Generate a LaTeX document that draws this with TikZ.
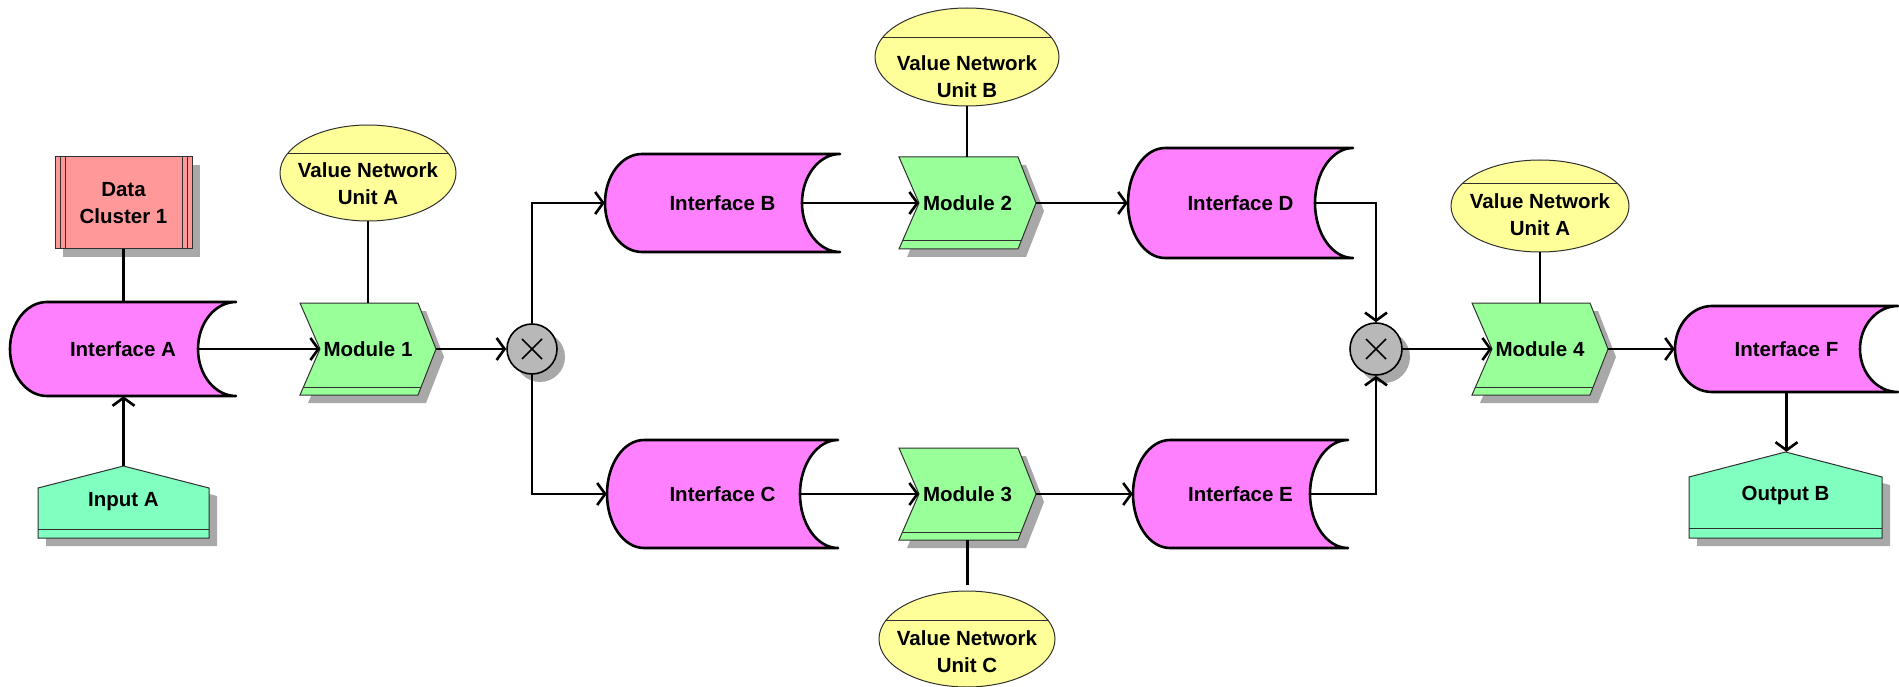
\documentclass[tikz,border=0pt]{standalone}
\usepackage{fontspec}
\setmainfont{Liberation Sans}
\usetikzlibrary{arrows.meta,shapes.geometric,calc}

\definecolor{ifacefill}{HTML}{FF80FF}
\definecolor{modfill}{HTML}{99FF99}
\definecolor{iofill}{HTML}{80FFC0}
\definecolor{vnufill}{HTML}{FFFF99}
\definecolor{dcfill}{HTML}{FF9999}
\definecolor{xorfill}{HTML}{B8B8B8}
\definecolor{shadowc}{HTML}{A8A8A8}
\definecolor{edgec}{HTML}{303030}

\tikzset{
  lbl/.style={inner sep=0pt, font=\fontsize{20.5}{27}\selectfont\bfseries, align=center, text=black},
  conn/.style={line width=2.6pt, black},
  flow/.style={conn, -{Straight Barb[length=8pt,width=22pt,line width=2.6pt]}},
  ifaceline/.style={line width=2.6pt, black, fill=ifacefill, line join=round},
  thinline/.style={line width=1pt, edgec},
  xorline/.style={line width=1.6pt, black},
}

% Interface: name, left, right, top, bottom, label
\newcommand\interface[6]{%
  \pgfmathsetmacro\ifM{-(#4+#5)/2}%
  \pgfmathsetmacro\ifH{(#5-#4)/2}%
  \pgfmathsetmacro\ifC{(#2+#3)/2}%
  \pgfmathsetmacro\ifW{#3-#2}%
  \pgfmathsetmacro\ifHt{#5-#4}%
  \draw[ifaceline] ({#2+37},-#4) -- (#3,-#4)
     arc[start angle=90,end angle=270,x radius=38,y radius=\ifH]
     -- ({#2+37},-#5)
     arc[start angle=270,end angle=90,x radius=37,y radius=\ifH] -- cycle;
  \node[lbl, minimum width=\ifW pt, minimum height=\ifHt pt] (#1) at (\ifC,\ifM) {#6};
  \coordinate (#1-out) at ({#3-38},\ifM);
}

% Module (chevron): name, left, right, top, bottom, label
\newcommand\module[6]{%
  \pgfmathsetmacro\mM{-(#4+#5)/2}%
  \pgfmathsetmacro\mS{-(#5-8)}%
  \pgfmathsetmacro\mW{#3+18-#2}%
  \pgfmathsetmacro\mH{#5-#4}%
  \pgfmathsetmacro\mC{(#2+#3+18)/2}%
  \fill[shadowc] ({#2+8},{-#4-8}) -- ({#3+8},{-#4-8}) -- ({#3+26},{\mM-8})
     -- ({#3+8},{-#5-8}) -- ({#2+8},{-#5-8}) -- ({#2+28},{\mM-8}) -- cycle;
  \draw[thinline, fill=modfill] (#2,-#4) -- (#3,-#4) -- ({#3+18},\mM)
     -- (#3,-#5) -- (#2,-#5) -- ({#2+20},\mM) -- cycle;
  \draw[thinline] ({#2+3.4},\mS) -- ({#3+3.1},\mS);
  \node[lbl, minimum width=\mW pt, minimum height=\mH pt] (#1) at (\mC,\mM) {#6};
  \coordinate (#1-in) at ({#2+20},\mM);
  \coordinate (#1-out) at ({#3+18},\mM);
}

% Value network unit: name, cx, cy, rx, ry, chord y, text y, label
\newcommand\vnu[8]{%
  \fill[vnufill] (#2,-#3) ellipse[x radius=#4, y radius=#5];
  \begin{scope}
    \clip (#2,-#3) ellipse[x radius=#4, y radius=#5];
    \draw[thinline] ({#2-#4},-#6) -- ({#2+#4},-#6);
  \end{scope}
  \node[ellipse, thinline, draw, inner sep=0pt,
        minimum width={2*#4 pt}, minimum height={2*#5 pt}] (#1) at (#2,-#3) {};
  \node[lbl] (#1-t) at (#2,-#7) {#8};
}

\begin{document}
\begin{tikzpicture}[x=1pt,y=1pt]
\useasboundingbox (0,0) rectangle (1899,-687);

% ---- left column: data cluster, interface A, input
\fill[shadowc] (63,-165) rectangle (200,-257);
\draw[thinline, fill=dcfill] (55,-157) rectangle (192,-249);
\draw[thinline] (60,-157) -- (60,-249) (65,-157) -- (65,-249)
                (182,-157) -- (182,-249) (187,-157) -- (187,-249);
\node[lbl, minimum width=137pt, minimum height=92pt] (dc) at (123.5,-203) {Data\\Cluster 1};

\interface{ifA}{10}{236}{302}{396}{Interface A}

\fill[shadowc] (46,-496) -- (131,-474) -- (217,-496) -- (217,-546) -- (46,-546) -- cycle;
\draw[thinline, fill=iofill] (38,-488) -- (123.5,-466) -- (209,-488) -- (209,-538) -- (38,-538) -- cycle;
\draw[thinline] (38,-529) -- (209,-529);
\node[lbl, minimum width=171pt, minimum height=72pt] (inA) at (123.5,-502) {Input A};

% ---- first module and split
\vnu{vA1}{368}{173}{88}{48}{154}{184}{Value Network\\Unit A}
\module{m1}{300}{418}{303}{395}{Module 1}

\fill[shadowc] (540,-357) circle (25);
\node[circle, draw, xorline, fill=xorfill, minimum size=50pt, inner sep=0pt] (x1) at (532,-349) {};
\draw[xorline] (x1.center) +(-10,-10) -- +(10,10) (x1.center) +(-10,10) -- +(10,-10);

% ---- upper branch
\interface{ifB}{605}{840}{154}{252}{Interface B}
\vnu{vB}{967}{57}{92}{49}{38}{77}{Value Network\\Unit B}
\module{m2}{899}{1018}{157}{249}{Module 2}
\interface{ifD}{1128}{1353}{148}{258}{Interface D}

% ---- lower branch
\interface{ifC}{607}{838}{440}{548}{Interface C}
\module{m3}{899}{1018}{448}{540}{Module 3}
\vnu{vC}{967}{639}{88}{48}{620}{652}{Value Network\\Unit C}
\interface{ifE}{1133}{1348}{440}{548}{Interface E}

% ---- join and output side
\fill[shadowc] (1384,-357) circle (26);
\node[circle, draw, xorline, fill=xorfill, minimum size=52pt, inner sep=0pt] (x2) at (1376,-349) {};
\draw[xorline] (x2.center) +(-10,-10) -- +(10,10) (x2.center) +(-10,10) -- +(10,-10);

\vnu{vA2}{1540}{206}{89}{46}{184}{215}{Value Network\\Unit A}
\module{m4}{1472}{1590}{303}{395}{Module 4}
\interface{ifF}{1675}{1898}{306}{392}{Interface F}

\fill[shadowc] (1697,-485) -- (1793,-460) -- (1890,-485) -- (1890,-546) -- (1697,-546) -- cycle;
\draw[thinline, fill=iofill] (1689,-477) -- (1785.5,-452) -- (1882,-477) -- (1882,-538) -- (1689,-538) -- cycle;
\draw[thinline] (1689,-528) -- (1882,-528);
\node[lbl, minimum width=193pt, minimum height=86pt] (outB) at (1785.5,-495) {Output B};

% ---- connectors
\draw[conn] (dc.south) -- (dc.south |- ifA.north);
\draw[flow] (inA.north) -- (inA.north |- ifA.south);
\draw[flow] (ifA-out) -- (m1-in);
\draw[conn] (vA1.south) -- (vA1.south |- m1.north);
\draw[flow] (m1-out) -- (x1.west);
\draw[flow] (x1.north) |- (ifB.west);
\draw[flow] (x1.south) |- (ifC.west);
\draw[flow] (ifB-out) -- (m2-in);
\draw[conn] (vB.south) -- (vB.south |- m2.north);
\draw[flow] (m2-out) -- (ifD.west);
\draw[flow] (ifC-out) -- (m3-in);
\draw[conn, shorten >=6pt] (m3.south) -- (m3.south |- vC.north);
\draw[flow] (m3-out) -- (ifE.west);
\draw[flow] (ifD-out) -| (x2.north);
\draw[flow] (ifE-out) -| (x2.south);
\draw[flow] (x2.east) -- (m4-in);
\draw[conn] (vA2.south) -- (vA2.south |- m4.north);
\draw[flow] (m4-out) -- (ifF.west);
\draw[flow] (ifF.south) -- (ifF.south |- outB.north);
\end{tikzpicture}
\end{document}
